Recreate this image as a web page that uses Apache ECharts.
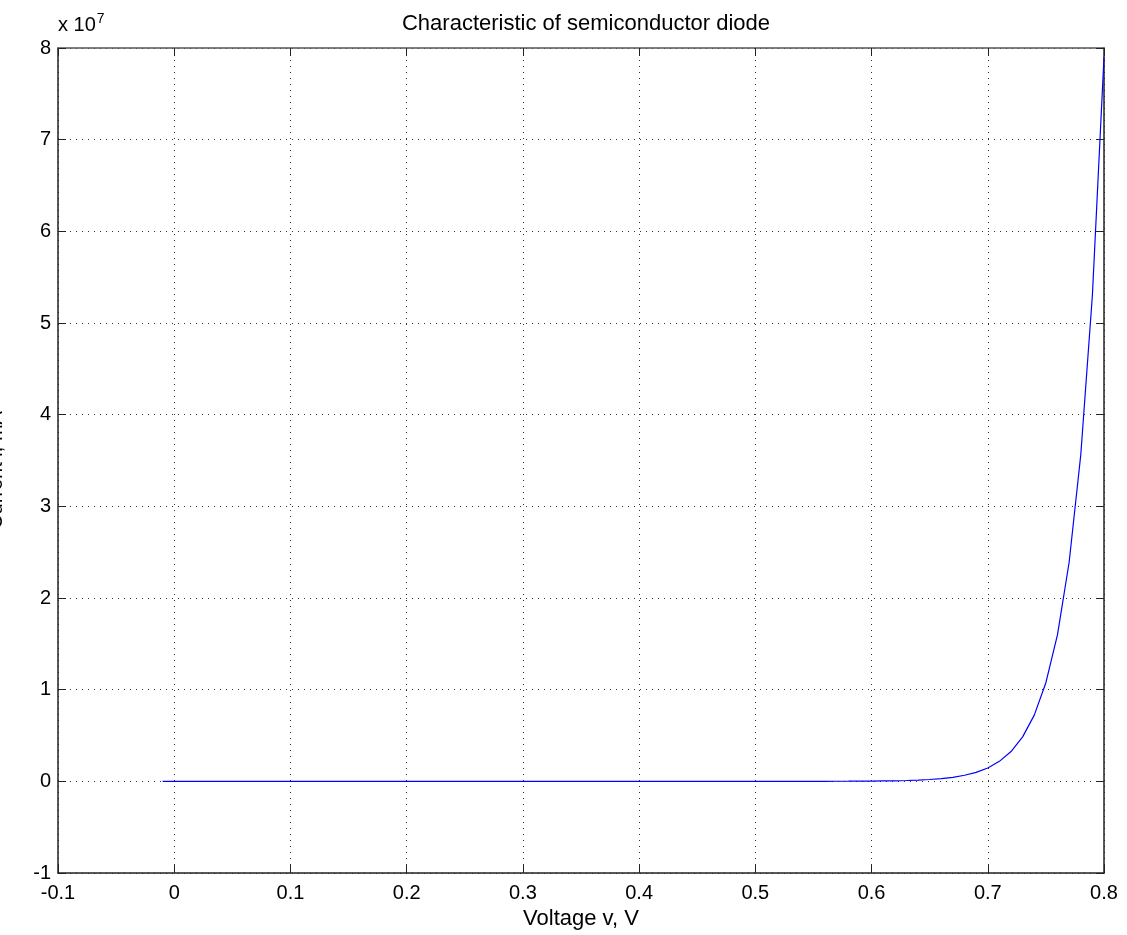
<!DOCTYPE html>
<html>
<head>
<meta charset="utf-8">
<script src="https://cdn.jsdelivr.net/npm/echarts@6/dist/echarts.min.js"></script>
<style>
  html, body { margin: 0; padding: 0; background: #fff; }
  #chart { width: 1127px; height: 935px; }
</style>
</head>
<body>
<div id="chart"></div>
<script>
// voltage samples, V
const voltage = [
  -0.01, 0.00, 0.01, 0.02, 0.03, 0.04, 0.05, 0.06, 0.07, 0.08, 0.09,
  0.10, 0.11, 0.12, 0.13, 0.14, 0.15, 0.16, 0.17, 0.18, 0.19,
  0.20, 0.21, 0.22, 0.23, 0.24, 0.25, 0.26, 0.27, 0.28, 0.29,
  0.30, 0.31, 0.32, 0.33, 0.34, 0.35, 0.36, 0.37, 0.38, 0.39,
  0.40, 0.41, 0.42, 0.43, 0.44, 0.45, 0.46, 0.47, 0.48, 0.49,
  0.50, 0.51, 0.52, 0.53, 0.54, 0.55, 0.56, 0.57, 0.58, 0.59,
  0.60, 0.61, 0.62, 0.63, 0.64, 0.65, 0.66, 0.67, 0.68, 0.69,
  0.70, 0.71, 0.72, 0.73, 0.74, 0.75, 0.76, 0.77, 0.78, 0.79, 0.80
];
// current, mA
const current = [
  0, 0, 0, 0, 0, 0, 0, 0, 0, 0, 0,
  0, 0, 0, 0, 0, 0, 0, 0, 0, 0,
  0, 0, 0, 0, 0, 0, 0, 0, 0, 0,
  0, 0, 0, 0, 0, 0, 0, 0, 0, 0,
  0, 0, 0, 0, 0, 0, 0, 0, 0, 0,
  500, 750, 1100, 1700, 2500, 3700, 5500, 8100, 12000, 18000,
  27000, 40000, 60000, 90000, 134000, 200000, 297000, 440000, 660000, 980000,
  1460000, 2180000, 3250000, 4850000, 7220000, 10760000, 16000000, 23900000, 35600000, 53000000, 79000000
];

const xTicks = { min: -0.1, max: 0.8, step: 0.1 };
const yTicks = { min: -1e7, max: 8e7, step: 1e7 };

const chart = echarts.init(document.getElementById("chart"));
const font = "Liberation Sans, Arial, sans-serif";
const axisColor = "#222";

function fmtX(v) {
  const r = Math.round(v * 10) / 10;
  return r === 0 ? "0" : String(r);
}

const option = {
  animation: false,
  title: {
    text: "Characteristic of semiconductor diode",
    left: 581,
    top: 8,
    textAlign: "center",
    textStyle: { fontFamily: font, fontWeight: "normal", fontSize: 22, color: "#000" },
  },
  grid: { left: 58, right: 23, top: 48, bottom: 62, outerBoundsMode: "none" },
  xAxis: [
    {
      type: "value",
      min: xTicks.min,
      max: xTicks.max,
      interval: xTicks.step,
      name: "Voltage v, V",
      nameLocation: "middle",
      nameGap: 33,
      nameTextStyle: { fontFamily: font, fontSize: 22, color: "#000" },
      axisLine: { show: true, onZero: false, lineStyle: { color: axisColor, width: 1.5 } },
      axisTick: { show: true, inside: true, length: 8, lineStyle: { color: axisColor } },
      axisLabel: { fontFamily: font, fontSize: 20, color: "#000", margin: 10, formatter: fmtX },
      splitLine: { show: true, lineStyle: { color: "#333", type: [1, 5] } },
    },
    {
      type: "value",
      position: "top",
      min: xTicks.min,
      max: xTicks.max,
      interval: xTicks.step,
      axisLine: { show: true, onZero: false, lineStyle: { color: "#555", width: 1.5 } },
      axisTick: { show: true, inside: true, length: 8, lineStyle: { color: axisColor } },
      axisLabel: { show: false },
      splitLine: { show: false },
    },
  ],
  yAxis: [
    {
      type: "value",
      min: yTicks.min,
      max: yTicks.max,
      interval: yTicks.step,
      axisLine: { show: true, onZero: false, lineStyle: { color: axisColor, width: 1.5 } },
      axisTick: { show: true, inside: true, length: 8, lineStyle: { color: axisColor } },
      axisLabel: {
        fontFamily: font, fontSize: 20, color: "#000", margin: 7,
        formatter: (v) => String(Math.round(v / 1e7)),
      },
      splitLine: { show: true, lineStyle: { color: "#333", type: [1, 5] } },
    },
    {
      type: "value",
      position: "right",
      min: yTicks.min,
      max: yTicks.max,
      interval: yTicks.step,
      axisLine: { show: true, onZero: false, lineStyle: { color: axisColor, width: 1.5 } },
      axisTick: { show: true, inside: true, length: 8, lineStyle: { color: axisColor } },
      axisLabel: { show: false },
      splitLine: { show: false },
    },
  ],
  graphic: [
    {
      type: "text",
      left: 58,
      top: 12,
      style: {
        text: "x 10{s|7}",
        font: "20px " + font,
        fill: "#000",
        rich: { s: { fontSize: 14, fontFamily: font, verticalAlign: "top", padding: [0, 0, 12, 1], fill: "#000" } },
      },
    },
    {
      type: "text",
      x: -4,
      y: 470,
      rotation: Math.PI / 2,
      style: {
        text: "Current i, mA",
        font: "20px " + font,
        fill: "#000",
        align: "center",
        verticalAlign: "middle",
      },
    },
  ],
  series: [
    {
      type: "line",
      data: voltage.map((v, i) => [v, current[i]]),
      showSymbol: false,
      smooth: false,
      lineStyle: { color: "#0000ff", width: 1.2 },
      itemStyle: { color: "#0000ff" },
      z: 5,
    },
  ],
};
chart.setOption(option);
</script>
</body>
</html>
